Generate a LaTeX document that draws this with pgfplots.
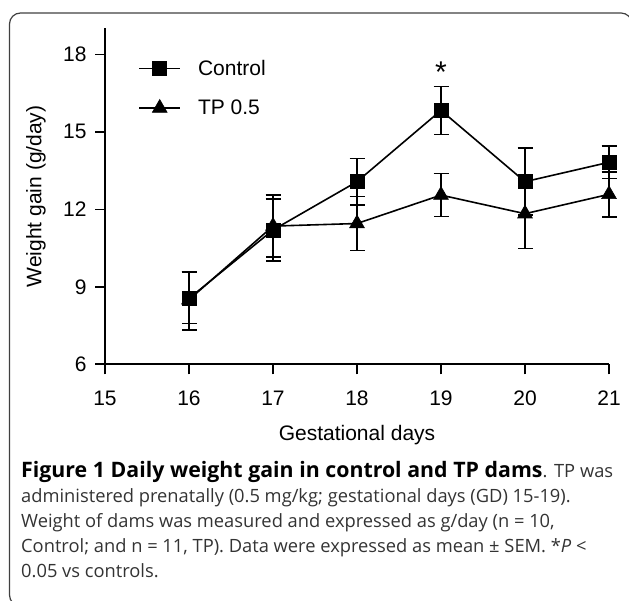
\documentclass[border=0pt]{standalone}
\usepackage{pgfplots}
\pgfplotsset{compat=1.18}
\usepackage{fontspec}
\setmainfont{Liberation Sans}
\newfontfamily\capfont{Open Sans}
\begin{document}
\begin{tikzpicture}
\path[use as bounding box] (0,0) rectangle (629pt,601pt);
\draw[line width=1.2pt, black!75, rounded corners=11pt] (632pt,560pt) -- (632pt,588pt) -- (9.5pt,588pt) -- (9.5pt,-5pt) -- (40pt,-5pt);
\begin{axis}[
  at={(105pt,236.7pt)}, anchor=south west,
  x=84pt, y=25.83pt,
  xmin=15, xmax=21, ymin=6, ymax=19,
  axis lines*=left,
  axis line style={line width=1.6pt},
  xtick={15,16,...,21}, ytick={6,9,...,18},
  tick align=outside, major tick length=10pt,
  tick style={line width=1.6pt, black},
  tick label style={font=\fontsize{21}{25}\selectfont},
  xticklabel style={yshift=-13pt},
  yticklabel style={xshift=-5pt},
  /pgf/number format/assume math mode=true,
  xlabel={Gestational days}, ylabel={Weight gain (g/day)},
  label style={font=\fontsize{21}{25}\selectfont},
  xlabel style={at={(axis description cs:0.5,-0.211)}, anchor=center},
  ylabel style={at={(axis description cs:-0.137,0.5)}, anchor=center},
  legend style={draw=none, fill=none, at={(axis description cs:0.06,0.918)}, anchor=north west,
    font=\fontsize{21}{25}\selectfont, row sep=19pt, column sep=15pt},
  legend cell align=left,
  legend image code/.code={\draw[mark repeat=2, mark phase=2] plot coordinates {(0pt,0pt) (20.5pt,0pt) (41pt,0pt)};},
  clip=false,
]
\addplot[black, line width=1.6pt, mark=square*, mark size=7pt, mark options={solid, line width=0.6pt},
  error bars/.cd, y dir=both, y explicit,
  error bar style={line width=1.6pt, black},
  error mark options={rotate=90, mark size=7.5pt, line width=1.6pt, black}]
  coordinates {
   (16,8.55) += (0,1.02) -= (0,0.97)
   (17,11.2) += (0,1.2) -= (0,1.2)
   (18,13.07) += (0,0.9) -= (0,0.9)
   (19,15.83) += (0,0.93) -= (0,0.93)
   (20,13.07) += (0,1.3) -= (0,1.3)
   (21,13.82) += (0,0.62) -= (0,0.62)
  };
\addlegendentry{Control}
\addplot[black, line width=1.6pt, mark=triangle*, mark size=8.5pt, mark options={solid, line width=0.6pt},
  error bars/.cd, y dir=both, y explicit,
  error bar style={line width=1.6pt, black},
  error mark options={rotate=90, mark size=7.5pt, line width=1.6pt, black}]
  coordinates {
   (16,8.5) += (0,1.07) -= (0,1.18)
   (17,11.35) += (0,1.2) -= (0,1.2)
   (18,11.45) += (0,1.05) -= (0,1.05)
   (19,12.55) += (0,0.83) -= (0,0.83)
   (20,11.83) += (0,1.35) -= (0,1.35)
   (21,12.58) += (0,0.87) -= (0,0.87)
  };
\addlegendentry{TP 0.5}
\node[font=\fontsize{30}{30}\selectfont] at (axis cs:19,17.32) {*};
\end{axis}
\node[anchor=north west, text width=592pt, align=justify, inner sep=0pt,
  font=\capfont\fontsize{18.3}{25}\selectfont, text=black!80] at (21pt,140pt)
  {{\fontsize{21.3}{25}\selectfont\bfseries\color{black}Figure 1 Daily weight gain in control and TP dams}. TP was\linebreak
   administered prenatally (0.5 mg/kg; gestational days (GD) 15-19).\\
   Weight of dams was measured and expressed as g/day (n = 10,\\
   Control; and n = 11, TP). Data were expressed as mean ± SEM. *\textit{P} <\\
   0.05 vs controls.};
\end{tikzpicture}
\end{document}
